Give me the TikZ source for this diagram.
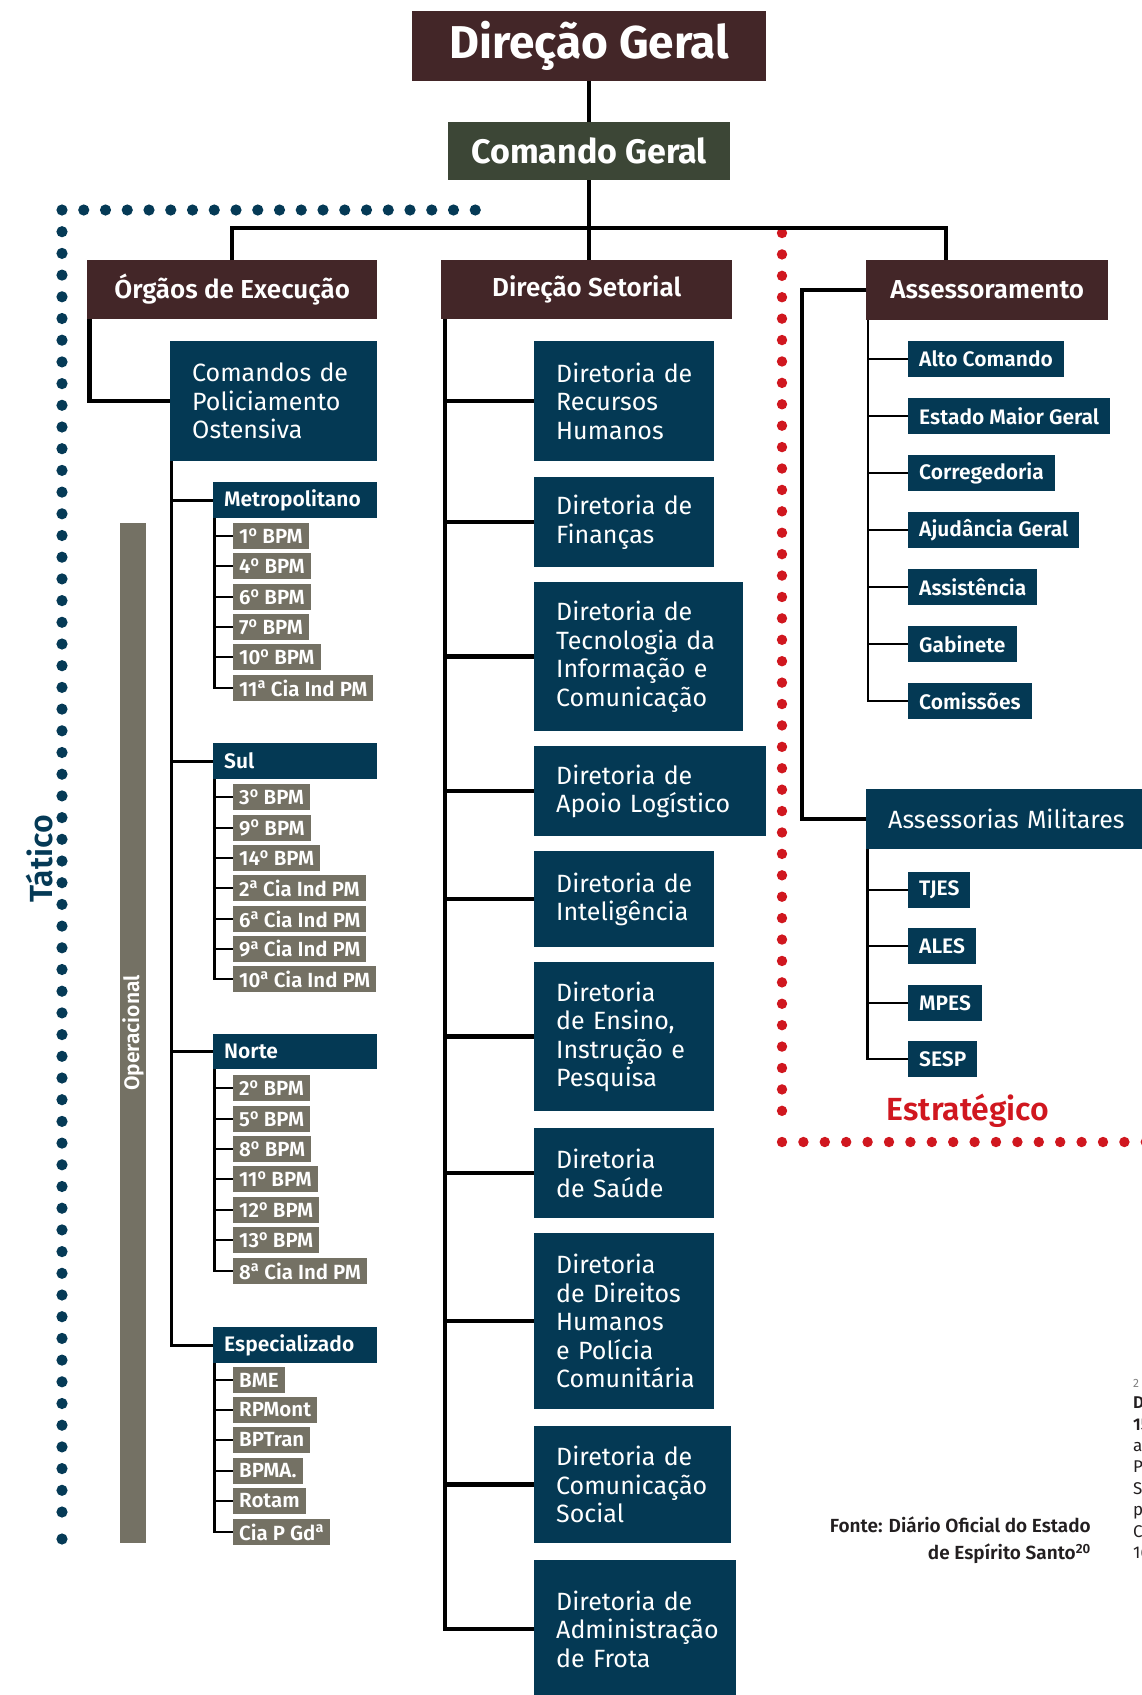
\documentclass[tikz,border=0pt]{standalone}
\usepackage{fontspec}
\setmainfont{Fira Sans}[BoldFont={Fira Sans SemiBold}]
\newfontfamily\firabold{Fira Sans Bold}
\newcommand\myo{\textsuperscript{o}}
\newcommand\mya{\textsuperscript{a}}
\definecolor{cbrown}{HTML}{432628}
\definecolor{cgreen}{HTML}{3C4636}
\definecolor{cblue}{HTML}{043954}
\definecolor{cgray}{HTML}{747164}
\definecolor{cdot}{HTML}{053A56}
\definecolor{cred}{HTML}{D0171F}
\definecolor{cdark}{HTML}{231F20}
\begin{document}
\begin{tikzpicture}[x=1pt,y=-1pt,
  bx/.style={inner sep=0pt, anchor=north west, text=white},
  topbox/.style={bx, fill=cbrown, font=\fontsize{46}{50}\selectfont\firabold},
  cmdbox/.style={bx, fill=cgreen, font=\fontsize{34}{38}\selectfont\firabold},
  headbox/.style={bx, fill=cbrown, font=\fontsize{26}{30}\selectfont\bfseries},
  dirbox/.style={bx, fill=cblue, inner xsep=22pt, align=left, font=\fontsize{25}{28.5}\selectfont},
  subbox/.style={bx, fill=cblue, inner xsep=11pt, align=left, minimum height=36pt, text width=142pt, font=\fontsize{21}{24}\selectfont\bfseries},
  itembox/.style={inner sep=0pt, inner xsep=6pt, anchor=west, fill=cgray, text=white, minimum height=26pt, font=\fontsize{20.5}{24}\selectfont\bfseries},
  asbox/.style={inner sep=0pt, inner xsep=11pt, anchor=west, fill=cblue, text=white, minimum height=36pt, font=\fontsize{21}{24}\selectfont\bfseries},
  thk/.style={line width=4.5pt, black},
  thn/.style={line width=2.7pt, black},
  bdot/.style={fill=cdot},
  rdot/.style={fill=cred}
]
\useasboundingbox (0,0) rectangle (1142,1695);

% dotted frames
\foreach \i in {0,...,19} \fill[bdot] (62+\i*21.75,210) circle (5.6pt);
\foreach \i in {1,...,60} \fill[bdot] (62,210+\i*21.7) circle (5.6pt);
\fill[bdot] (62,1539) circle (5.6pt);
\foreach \i in {0,...,41} \fill[rdot] (782,233+\i*21.41) circle (5.2pt);
\foreach \i in {0,...,17} \fill[rdot] (782+\i*21.4,1142) circle (5.2pt);

% top
\node[topbox, minimum width=354pt, minimum height=70pt] (dg) at (412,11) {Direção Geral};
\node[cmdbox, minimum width=282pt, minimum height=58pt] (cg) at (448,122) {Comando Geral};
\node[headbox, minimum width=290pt, minimum height=59pt] (oe) at (87,260) {Órgãos de Execução};
\node[headbox, minimum width=291pt, minimum height=59pt] (ds) at (441,260) {Direção Setorial};
\node[headbox, minimum width=242pt, minimum height=60pt] (as) at (866,260) {Assessoramento};

% left column
\node[dirbox, text width=163pt, minimum height=120pt] (cpo) at (170,341) {Comandos~de\\Policiamento\\Ostensiva};
\node[subbox] (metro) at (213,482) {Metropolitano};
\node[subbox] (sul) at (213,743) {Sul};
\node[subbox, minimum height=35pt] (norte) at (213,1034) {Norte};
\node[subbox] (esp) at (213,1327) {Especializado};

\node[itembox] (m1) at (233,536) {1\myo{} BPM};
\node[itembox] (m2) at (233,566) {4\myo{} BPM};
\node[itembox] (m3) at (233,597) {6\myo{} BPM};
\node[itembox] (m4) at (233,627) {7\myo{} BPM};
\node[itembox] (m5) at (233,657) {10\myo{} BPM};
\node[itembox] (m6) at (233,688) {11\mya{} Cia Ind PM};

\node[itembox] (s1) at (233,797) {3\myo{} BPM};
\node[itembox] (s2) at (233,828) {9\myo{} BPM};
\node[itembox] (s3) at (233,858) {14\myo{} BPM};
\node[itembox] (s4) at (233,888) {2\mya{} Cia Ind PM};
\node[itembox] (s5) at (233,919) {6\mya{} Cia Ind PM};
\node[itembox] (s6) at (233,949) {9\mya{} Cia Ind PM};
\node[itembox] (s7) at (233,979) {10\mya{} Cia Ind PM};

\node[itembox] (n1) at (233,1088) {2\myo{} BPM};
\node[itembox] (n2) at (233,1119) {5\myo{} BPM};
\node[itembox] (n3) at (233,1149) {8\myo{} BPM};
\node[itembox] (n4) at (233,1179) {11\myo{} BPM};
\node[itembox] (n5) at (233,1210) {12\myo{} BPM};
\node[itembox] (n6) at (233,1240) {13\myo{} BPM};
\node[itembox] (n7) at (233,1271) {8\mya{} Cia Ind PM};

\node[itembox] (e1) at (233,1380) {BME};
\node[itembox] (e2) at (233,1410) {RPMont};
\node[itembox] (e3) at (233,1440) {BPTran};
\node[itembox] (e4) at (233,1471) {BPMA.};
\node[itembox] (e5) at (233,1501) {Rotam};
\node[itembox] (e6) at (233,1532) {Cia P Gd\mya};

\node[fill=cgray, rotate=90, minimum width=1020pt, minimum height=26pt, inner sep=0pt, text=white, font=\fontsize{21}{24}\selectfont\bfseries] (op) at (133,1033) {Operacional};
\node[rotate=90, text=cdot, inner sep=0pt, font=\fontsize{32}{36}\selectfont\bfseries] (tat) at (40,859) {Tático};

% middle column
\node[dirbox, text width=136pt, minimum height=120pt] (d1) at (534,341) {Diretoria~de\\Recursos\\Humanos};
\node[dirbox, text width=136pt, minimum height=90pt] (d2) at (534,477) {Diretoria~de\\Finanças};
\node[dirbox, text width=165pt, minimum height=149pt] (d3) at (534,582) {Diretoria~de\\Tecnologia~da\\Informação~e\\Comunicação};
\node[dirbox, text width=188pt, minimum height=90pt] (d4) at (534,746) {Diretoria~de\\Apoio~Logístico};
\node[dirbox, text width=136pt, minimum height=96pt] (d5) at (534,851) {Diretoria~de\\Inteligência};
\node[dirbox, text width=136pt, minimum height=149pt] (d6) at (534,962) {Diretoria\\de~Ensino,\\Instrução~e\\Pesquisa};
\node[dirbox, text width=136pt, minimum height=90pt] (d7) at (534,1128) {Diretoria\\de~Saúde};
\node[dirbox, text width=136pt, minimum height=176pt] (d8) at (534,1233) {Diretoria\\de~Direitos\\Humanos\\e~Polícia\\Comunitária};
\node[dirbox, text width=153pt, minimum height=117pt] (d9) at (534,1426) {Diretoria~de\\Comunicação\\Social};
\node[dirbox, text width=158pt, minimum height=138pt] (d10) at (534,1560) {Diretoria~de\\Administração\\de~Frota};

% right column
\node[asbox] (a1) at (908,359) {Alto Comando};
\node[asbox] (a2) at (908,416) {Estado Maior Geral};
\node[asbox] (a3) at (908,473) {Corregedoria};
\node[asbox] (a4) at (908,530) {Ajudância Geral};
\node[asbox] (a5) at (908,587) {Assistência};
\node[asbox] (a6) at (908,644) {Gabinete};
\node[asbox] (a7) at (908,701) {Comissões};

\node[dirbox, text width=246pt, minimum height=60pt] (am) at (866,789) {Assessorias~Militares};
\node[asbox] (t1) at (908,890) {TJES};
\node[asbox] (t2) at (908,946) {ALES};
\node[asbox] (t3) at (908,1003) {MPES};
\node[asbox] (t4) at (908,1059) {SESP};

\node[text=cred, inner sep=0pt, font=\fontsize{32}{36}\selectfont\bfseries] (est) at (968,1111) {Estratégico};

\node[anchor=east, align=right, inner sep=0pt, text=cdark, font=\fontsize{19}{27}\selectfont\bfseries] (src) at (1091,1540) {Fonte: Diário Oficial do Estado\\de Espírito Santo\textsuperscript{20}};
\node[anchor=west, align=left, inner sep=0pt, text=cdark, font=\fontsize{17}{21.4}\selectfont] (side) at (1133,1469) {{\color{gray}\fontsize{12}{14}\selectfont 2}\\\textbf{D}\\\textbf{15}\\a\\P\\S\\p\\C\\16};

% connectors
\draw[thk] (dg.south) -- (dg.south |- cg.north);
\draw[thk] (cg.south) -- (cg.south |- ds.north);
\coordinate (bar) at (0,228);
\coordinate (asin) at (946,0);
\draw[thk] (oe.north) -- (oe.north |- bar) -- (asin |- bar) -- (asin |- as.north);

\draw[thk] ([xshift=2.5pt]oe.south west) |- (cpo.west);
\coordinate (cv) at ([xshift=1.5pt]cpo.south west);
\draw[thn] (cv) |- (esp.west);
\foreach \n in {metro,sul,norte} \draw[thn] (cv |- \n.west) -- (\n.west);

\coordinate (mv) at ([xshift=1.5pt]metro.south west);
\draw[thn] (mv) |- (m6.west);
\foreach \k in {1,...,5} \draw[thn] (mv |- m\k.west) -- (m\k.west);
\coordinate (sv) at ([xshift=1.5pt]sul.south west);
\draw[thn] (sv) |- (s7.west);
\foreach \k in {1,...,6} \draw[thn] (sv |- s\k.west) -- (s\k.west);
\coordinate (nv) at ([xshift=1.5pt]norte.south west);
\draw[thn] (nv) |- (n7.west);
\foreach \k in {1,...,6} \draw[thn] (nv |- n\k.west) -- (n\k.west);
\coordinate (ev) at ([xshift=1.5pt]esp.south west);
\draw[thn] (ev) |- (e6.west);
\foreach \k in {1,...,5} \draw[thn] (ev |- e\k.west) -- (e\k.west);

\coordinate (dv) at ([xshift=4pt]ds.south west);
\draw[thk] (dv) |- (d10.west);
\foreach \k in {1,...,9} \draw[thk] (dv |- d\k.west) -- (d\k.west);

\coordinate (av) at (802,0);
\draw[thk] (as.west) -- (as.west -| av) -- (av |- am.west) -- (am.west);
\coordinate (aiv) at ([xshift=2pt]as.south west);
\draw[thn] (aiv) |- (a7.west);
\foreach \k in {1,...,6} \draw[thn] (aiv |- a\k.west) -- (a\k.west);
\coordinate (tv) at ([xshift=1.5pt]am.south west);
\draw[thn] (tv) |- (t4.west);
\foreach \k in {1,...,3} \draw[thn] (tv |- t\k.west) -- (t\k.west);
\end{tikzpicture}
\end{document}
